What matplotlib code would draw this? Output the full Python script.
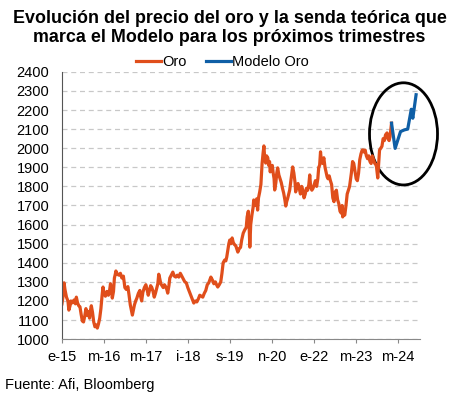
import numpy as np
import matplotlib.pyplot as plt
from matplotlib.patches import Ellipse

plt.rcParams['font.family'] = ['Liberation Sans', 'DejaVu Sans']

# meses desde enero 2015 (0 = e-15) y precio del oro
oro_mes = [0, 0.4, 0.7, 1.0, 1.5, 2.0, 2.3, 2.7, 3.0, 3.5, 4.0, 4.5, 4.8, 5.2, 5.6, 6.0,
           6.4, 6.8, 7.2, 7.6, 8.0, 8.4, 8.8, 9.2, 9.5, 9.8, 10.2, 10.6, 11.0, 11.4, 11.8,
           12.2, 12.6,
           13.0, 13.4, 13.7, 14.0, 14.5, 15.0, 15.5, 15.8, 16.2, 16.5, 16.8, 17.2, 17.5,
           17.8, 18.0, 18.5, 19.0, 19.5, 20.0, 20.5, 21.0, 21.5, 22.0, 22.4, 22.8, 23.2,
           23.5, 23.8,
           24.2, 24.6, 25.0, 25.5, 26.0, 26.3, 26.6, 27.0, 27.5, 28.0, 28.4, 28.8, 29.2,
           29.6, 30.0, 30.4, 30.8, 31.2, 31.6, 32.0, 32.3, 32.6, 33.0, 33.4, 33.8, 34.2,
           34.6, 35.0, 35.3, 35.7,
           36.0, 36.5, 37.0, 37.5, 38.0, 38.5, 39.0, 39.5, 40.0, 40.5, 41.0, 41.5, 42.0,
           42.5, 43.0, 43.5, 44.0, 44.5, 45.0, 45.5, 46.0, 46.5, 47.0, 47.5, 48.0,
           48.5, 49.0, 49.7, 50.2, 50.7, 51.2, 51.6, 52.0, 52.5, 53.0, 53.4, 53.8, 54.3,
           54.7, 55.0, 55.4, 55.7, 56.0, 56.4, 56.8, 57.2, 57.6, 58.0, 58.4, 58.7, 59.2,
           59.6, 60.0,
           60.5, 61.0, 61.5, 61.8, 62.2, 62.5, 62.7, 63.0, 63.4, 63.8, 64.0, 64.4, 64.8,
           65.0, 65.3, 65.6, 66.0, 66.4, 66.8, 67.1, 67.4, 67.7, 68.0, 68.3, 68.7, 69.0,
           69.3, 69.5, 69.8, 70.2, 70.5, 70.8, 71.0, 71.4, 71.7,
           72.0, 72.4, 72.8, 73.2, 73.6, 74.0, 74.4, 74.7, 75.0, 75.3, 75.7, 76.0, 76.4,
           76.8, 77.0, 77.4, 77.8, 78.0, 78.4, 78.8, 79.2, 79.6, 80.0, 80.4, 80.8, 81.2,
           81.6, 82.0, 82.4, 82.7, 83.0, 83.4, 83.8, 84.2,
           84.6, 85.0, 85.4, 85.7, 86.0, 86.3, 86.6, 87.0, 87.4, 87.8, 88.2, 88.5, 88.8,
           89.2, 89.6, 90.0, 90.4, 90.8, 91.2, 91.6, 92.0, 92.4, 92.8, 93.2, 93.5, 93.7,
           94.0, 94.4, 94.8, 95.2, 95.6, 96.0, 96.3, 96.6,
           97.0, 97.4, 97.8, 98.2, 98.6, 99.0, 99.4, 99.8, 100.2, 100.5, 100.8, 101.2,
           101.6, 102.0, 102.4, 102.8, 103.2, 103.6, 104.0, 104.4, 104.8, 105.0, 105.4,
           105.7, 106.0, 106.4, 106.8, 107.2, 107.6, 108.0, 108.5, 108.8, 109.2, 109.5,
           110.0]
oro_val = [1185, 1230, 1295, 1260, 1220, 1200, 1152, 1175, 1200, 1190, 1205, 1185, 1220, 1190, 1175, 1170,
           1130, 1095, 1090, 1120, 1160, 1125, 1145, 1110, 1150, 1175, 1140, 1090, 1065, 1075, 1058,
           1080, 1110,
           1160, 1230, 1273, 1240, 1225, 1250, 1230, 1245, 1290, 1260, 1215, 1250, 1320,
           1340, 1357, 1340, 1335, 1345, 1320, 1330, 1270, 1260, 1275, 1230, 1180, 1150,
           1126, 1150,
           1180, 1200, 1215, 1240, 1255, 1220, 1200, 1245, 1270, 1285, 1260, 1230, 1255,
           1280, 1270, 1250, 1220, 1240, 1265, 1290, 1340, 1320, 1290, 1280, 1270, 1285,
           1275, 1260, 1241, 1280,
           1320, 1335, 1351, 1330, 1325, 1335, 1325, 1345, 1330, 1315, 1300, 1295, 1270,
           1250, 1230, 1210, 1189, 1200, 1195, 1210, 1230, 1225, 1220, 1240, 1255,
           1285, 1295, 1325, 1310, 1290, 1300, 1285, 1273, 1285, 1300, 1345, 1400, 1414,
           1410, 1430, 1470, 1500, 1519, 1500, 1530, 1505, 1495, 1490, 1470, 1456, 1475,
           1480, 1520,
           1555, 1572, 1585, 1640, 1670, 1580, 1482, 1600, 1650, 1690, 1729, 1700, 1720,
           1735, 1676, 1740, 1771, 1810, 1920, 1970, 2012, 1940, 1922, 1960, 1949, 1910,
           1930, 1876, 1895, 1910, 1870, 1840, 1781, 1820, 1870,
           1897, 1860, 1840, 1820, 1790, 1765, 1730, 1697, 1720, 1735, 1760, 1780, 1830,
           1880, 1902, 1870, 1820, 1771, 1800, 1815, 1790, 1760, 1800, 1780, 1740, 1760,
           1790, 1780, 1810, 1860, 1800, 1780, 1790, 1810,
           1830, 1800, 1840, 1900, 1910, 1981, 1930, 1920, 1950, 1900, 1870, 1850, 1840,
           1855, 1830, 1810, 1740, 1720, 1770, 1780, 1730, 1710, 1670, 1660, 1700, 1640,
           1660, 1650, 1700, 1760, 1780, 1800, 1834, 1870,
           1930, 1920, 1880, 1840, 1830, 1870, 1940, 1970, 1990, 1991, 1980, 1990,
           1960, 1945, 1960, 1930, 1920, 1960, 1940, 1920, 1915, 1900, 1844,
           1920, 1990, 2000, 2010, 2050, 2040, 2070, 2080, 2050, 2040, 2060,
           2131]

modelo_mes = [110.0, 111.2, 113.0, 114.3, 115.4, 116.6, 117.1, 118.2]
modelo_val = [2131, 1999, 2087, 2096, 2100, 2204, 2157, 2280]

tick_pos = [0, 14, 28, 42, 56, 70, 84, 98, 112]
tick_lab = ['e-15', 'm-16', 'm-17', 'i-18', 's-19', 'n-20', 'e-22', 'm-23', 'm-24']

fig = plt.figure(figsize=(4.59, 3.99), dpi=100)
ax = fig.add_axes([0.135, 0.150, 0.780, 0.670])

ax.plot(oro_mes, oro_val, color='#E04E1B', lw=2.3, label='Oro')
ax.plot(modelo_mes, modelo_val, color='#0F5FA6', lw=2.3, label='Modelo Oro')

ell = Ellipse((114.0, 2075), width=22.7, height=535, fill=False,
              edgecolor='black', lw=2.0, clip_on=False)
ax.add_patch(ell)

ax.set_xlim(0, 119.5)
ax.set_ylim(1000, 2400)
ax.set_yticks(np.arange(1000, 2401, 100))
ax.set_xticks(tick_pos)
ax.set_xticklabels(tick_lab)
ax.grid(axis='y', color='#c8c8c8', ls=(0, (4, 3)), lw=0.9)
ax.set_axisbelow(True)

for s in ['top', 'right']:
    ax.spines[s].set_visible(False)
ax.spines['left'].set_color('#555555')
ax.spines['bottom'].set_color('#888888')
ax.tick_params(axis='y', length=0, pad=9, labelsize=10.5)
ax.tick_params(axis='x', length=3, color='#888888', pad=5, labelsize=10.5)

fig.legend(loc='center', bbox_to_anchor=(0.485, 0.845), ncol=2, frameon=False,
           fontsize=10.5, handlelength=1.7, handletextpad=0.1, columnspacing=1.3)

fig.text(0.5, 0.975, 'Evolución del precio del oro y la senda teórica que\n'
         'marca el Modelo para los próximos trimestres', ha='center', va='top',
         fontsize=12.9, fontweight='bold', linespacing=1.15)
fig.text(0.01, 0.035, 'Fuente: Afi, Bloomberg', fontsize=10.5, va='center')

fig.savefig('out.png', dpi=100)
